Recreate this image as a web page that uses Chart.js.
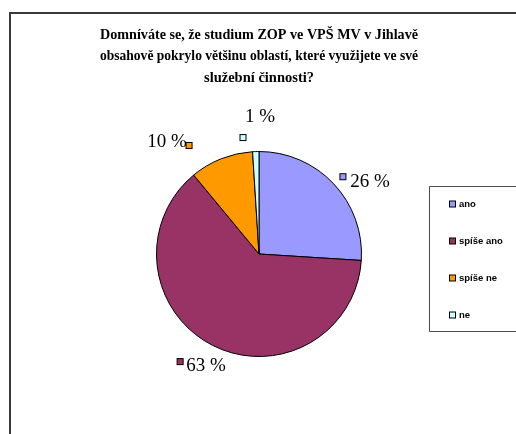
<!DOCTYPE html>
<html>
<head>
<meta charset="utf-8">
<script src="https://cdn.jsdelivr.net/npm/chart.js@4/dist/chart.umd.min.js"></script>
<style>
    html, body { margin: 0; padding: 0; background: #FFFFFF; }
    #wrap { position: relative; width: 516px; height: 434px; overflow: hidden; }
</style>
</head>
<body>
<div id="wrap"><canvas id="pieChart" width="516" height="434"></canvas></div>
<script>
const TITLE_LINES = [
    'Domníváte se, že studium ZOP ve VPŠ MV v Jihlavě',
    'obsahově pokrylo většinu oblastí, které využijete ve své',
    'služební činnosti?'
];
const CATEGORIES = ['ano', 'spíše ano', 'spíše ne', 'ne'];
const VALUES = [26, 63, 10, 1];
const SLICE_COLORS = ['#9999FF', '#993366', '#FF9900', '#CCFFFF'];

// label placement tweaks, Excel moves labels around a bit
const LABEL_NUDGE = [[18, 15], [5, -2], [-45, 7], [5, -10]];
const KEY_OFFSET = [[-27, -5], [-26, -4], [22, 3], [-17, 21]];

const framePlugin = {
    id: 'frame',
    beforeDraw(chart) {
        const ctx = chart.ctx;
        ctx.save();
        ctx.strokeStyle = '#3A3A3A';
        ctx.lineWidth = 2;
        ctx.beginPath();
        ctx.moveTo(10, chart.height);
        ctx.lineTo(10, 13);
        ctx.lineTo(chart.width, 13);
        ctx.stroke();
        ctx.restore();
    }
};

const pieLabelsPlugin = {
    id: 'pieLabels',
    afterDatasetsDraw(chart) {
        const ctx = chart.ctx;
        const meta = chart.getDatasetMeta(0);
        ctx.save();
        ctx.font = '19px "Liberation Serif", "Times New Roman", serif';
        ctx.textAlign = 'center';
        ctx.textBaseline = 'middle';
        meta.data.forEach((arc, i) => {
            const p = arc.getProps(['x', 'y', 'startAngle', 'endAngle', 'outerRadius'], true);
            const mid = (p.startAngle + p.endAngle) / 2;
            const d = p.outerRadius + 25;
            const tx = p.x + Math.cos(mid) * d + LABEL_NUDGE[i][0];
            const ty = p.y + Math.sin(mid) * d + LABEL_NUDGE[i][1];
            ctx.fillStyle = '#000000';
            ctx.fillText(VALUES[i] + ' %', tx, ty);
            const kx = tx + KEY_OFFSET[i][0];
            const ky = ty + KEY_OFFSET[i][1];
            ctx.fillStyle = SLICE_COLORS[i];
            ctx.fillRect(kx - 3, ky - 3, 6, 6);
            ctx.strokeStyle = '#000000';
            ctx.lineWidth = 1;
            ctx.strokeRect(kx - 3, ky - 3, 6, 6);
        });
        ctx.restore();
    }
};

const legendBoxPlugin = {
    id: 'legendBox',
    afterDraw(chart) {
        const ctx = chart.ctx;
        const left = 429.5, top = 186.5, bottom = 331.5;
        ctx.save();
        ctx.strokeStyle = '#4A4A4A';
        ctx.lineWidth = 1;
        ctx.beginPath();
        ctx.moveTo(chart.width, top);
        ctx.lineTo(left, top);
        ctx.lineTo(left, bottom);
        ctx.lineTo(chart.width, bottom);
        ctx.stroke();
        ctx.font = 'bold 9.5px "Liberation Sans", Arial, sans-serif';
        ctx.textAlign = 'left';
        ctx.textBaseline = 'middle';
        CATEGORIES.forEach((label, i) => {
            const y = 204 + i * 37;
            ctx.fillStyle = SLICE_COLORS[i];
            ctx.fillRect(449.5, y - 3, 6, 6);
            ctx.strokeStyle = '#000000';
            ctx.strokeRect(449.5, y - 3, 6, 6);
            ctx.fillStyle = '#000000';
            ctx.fillText(label, 459, y);
        });
        ctx.restore();
    }
};

new Chart(document.getElementById('pieChart'), {
    type: 'pie',
    data: {
        labels: CATEGORIES,
        datasets: [{
            data: VALUES,
            backgroundColor: SLICE_COLORS,
            borderColor: '#000000',
            borderWidth: 1
        }]
    },
    options: {
        responsive: false,
        animation: false,
        devicePixelRatio: 1,
        layout: {
            padding: { left: 100, right: 98, top: 0, bottom: 77 }
        },
        plugins: {
            legend: { display: false },
            tooltip: { enabled: false },
            title: {
                display: true,
                text: TITLE_LINES,
                color: '#000000',
                font: { family: '"Liberation Serif", "Times New Roman", serif', size: 14.5, weight: 'bold', lineHeight: 1.483 },
                padding: { top: 24.2, bottom: 62.3 }
            }
        }
    },
    plugins: [framePlugin, pieLabelsPlugin, legendBoxPlugin]
});
</script>
</body>
</html>
